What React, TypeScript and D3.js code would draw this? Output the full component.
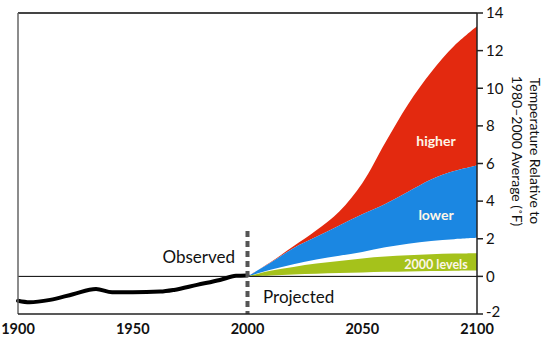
import React, { useEffect, useRef } from "react";
import * as d3 from "d3";

// Observed temperature (°F relative to 1980–2000 average)
const obsYears = [1900, 1905, 1914, 1924, 1934, 1941, 1950, 1962, 1968, 1978, 1988, 1995, 2000];
const obsValues = [-1.3, -1.38, -1.25, -0.95, -0.67, -0.84, -0.84, -0.81, -0.72, -0.45, -0.19, 0.03, 0.05];

// Projected scenarios
const projYears = [2000, 2010, 2020, 2030, 2040, 2050, 2060, 2070, 2080, 2090, 2100];
const higherTop = [0, 0.75, 1.6, 2.45, 3.45, 4.95, 7.1, 9.15, 10.85, 12.25, 13.3];
const lowerTop = [0, 0.72, 1.5, 2.1, 2.7, 3.3, 3.85, 4.5, 5.15, 5.6, 5.9];
const lowerBottom = [0, 0.35, 0.65, 0.9, 1.1, 1.3, 1.55, 1.74, 1.88, 1.98, 2.05];
const levelsTop = [0, 0.3, 0.5, 0.68, 0.82, 0.95, 1.05, 1.12, 1.17, 1.21, 1.23];
const levelsBottom = [0, 0.05, 0.1, 0.14, 0.18, 0.21, 0.24, 0.26, 0.28, 0.3, 0.31];

const xTicks = [1900, 1950, 2000, 2050, 2100];
const yTicks = [-2, 0, 2, 4, 6, 8, 10, 12, 14];

const W = 550;
const H = 351;

export default function App() {
    const svgRef = useRef<SVGSVGElement>(null);

    useEffect(() => {
        if (!svgRef.current) return;
        const svg = d3.select(svgRef.current);
        svg.selectAll("*").remove();

        const left = 18, right = 477, top = 13, bottom = 314;
        const x = d3.scaleLinear().domain([1900, 2100]).range([left, right]);
        const y = d3.scaleLinear().domain([-2, 14]).range([bottom, top]);
        const font = "Lato, 'Open Sans', sans-serif";

        const band = (lo: number[], hi: number[]) =>
            d3.area<number>()
                .x((_, i) => x(projYears[i]))
                .y0((_, i) => y(lo[i]))
                .y1((_, i) => y(hi[i]))
                .curve(d3.curveCatmullRom.alpha(0.5))(projYears);

        // --- Scenario bands ---
        svg.append("path").attr("d", band(lowerTop, higherTop)).attr("fill", "#e3290f");
        svg.append("path").attr("d", band(lowerBottom, lowerTop)).attr("fill", "#1b87e2");
        svg.append("path").attr("d", band(levelsBottom, levelsTop)).attr("fill", "#a5c21b");

        // zero line
        svg.append("line")
            .attr("x1", left).attr("x2", right)
            .attr("y1", y(0)).attr("y2", y(0))
            .attr("stroke", "#000").attr("stroke-width", 1);

        // --- Observed line ---
        const line = d3.line<number>()
            .x((d, i) => x(obsYears[i]))
            .y((d) => y(d))
            .curve(d3.curveMonotoneX);
        svg.append("path")
            .attr("d", line(obsValues))
            .attr("fill", "none")
            .attr("stroke", "#000")
            .attr("stroke-width", 4)
            .attr("stroke-linecap", "round");

        // dashed divider at 2000
        svg.append("line")
            .attr("x1", x(2000)).attr("x2", x(2000))
            .attr("y1", 231).attr("y2", bottom)
            .attr("stroke", "#555")
            .attr("stroke-width", 4)
            .attr("stroke-dasharray", "6,4");

        // --- Frame ---
        svg.append("line").attr("x1", left).attr("x2", right).attr("y1", top).attr("y2", top)
            .attr("stroke", "#444").attr("stroke-width", 2);
        svg.append("line").attr("x1", left).attr("x2", left).attr("y1", top).attr("y2", bottom)
            .attr("stroke", "#666").attr("stroke-width", 1.5);
        svg.append("line").attr("x1", left).attr("x2", right).attr("y1", bottom).attr("y2", bottom)
            .attr("stroke", "#222").attr("stroke-width", 1.5);
        svg.append("line").attr("x1", right).attr("x2", right).attr("y1", top).attr("y2", bottom)
            .attr("stroke", "#222").attr("stroke-width", 1.5);

        // right ticks
        yTicks.forEach((t) => {
            svg.append("line")
                .attr("x1", right).attr("x2", right + 6)
                .attr("y1", y(t)).attr("y2", y(t))
                .attr("stroke", "#222").attr("stroke-width", 1.5);
            svg.append("text")
                .attr("x", right + 9).attr("y", y(t) - (t === -2 ? 2 : 0))
                .attr("dy", "0.35em")
                .attr("font-family", font)
                .attr("font-size", 15)
                .attr("fill", "#111")
                .text(t);
        });

        // bottom tick labels
        xTicks.forEach((t) => {
            svg.append("text")
                .attr("x", x(t)).attr("y", 334)
                .attr("text-anchor", "middle")
                .attr("font-family", font)
                .attr("font-size", 14.5)
                .attr("font-weight", "bold")
                .attr("fill", "#111")
                .text(t);
        });

        // axis title
        const title = svg.append("text")
            .attr("transform", `translate(530, 151) rotate(90)`)
            .attr("text-anchor", "middle")
            .attr("font-family", font)
            .attr("font-size", 14)
            .attr("fill", "#111");
        title.append("tspan").attr("x", 0).attr("y", 0).text("Temperature Relative to");
        title.append("tspan").attr("x", 0).attr("y", 18).text("1980\u20132000 Average (\u02DAF)");

        // annotations
        svg.append("text").attr("x", 235).attr("y", 263).attr("text-anchor", "end")
            .attr("font-family", font).attr("font-size", 17).attr("fill", "#111").text("Observed");
        svg.append("text").attr("x", 263).attr("y", 303)
            .attr("font-family", font).attr("font-size", 17).attr("fill", "#111").text("Projected");

        const inner = [
            { label: "higher", yy: 146, size: 14 },
            { label: "lower", yy: 220, size: 14 },
            { label: "2000 levels", yy: 269, size: 12.5 },
        ];
        inner.forEach((d) => {
            svg.append("text")
                .attr("x", 436).attr("y", d.yy)
                .attr("text-anchor", "middle")
                .attr("font-family", font)
                .attr("font-size", d.size)
                .attr("font-weight", "bold")
                .attr("fill", "#fdf6e8")
                .text(d.label);
        });
    }, []);

    return (
        <svg
            ref={svgRef}
            width={W}
            height={H}
            style={{ position: "absolute", left: 0, top: 0, background: "#fff" }}
        />
    );
}
